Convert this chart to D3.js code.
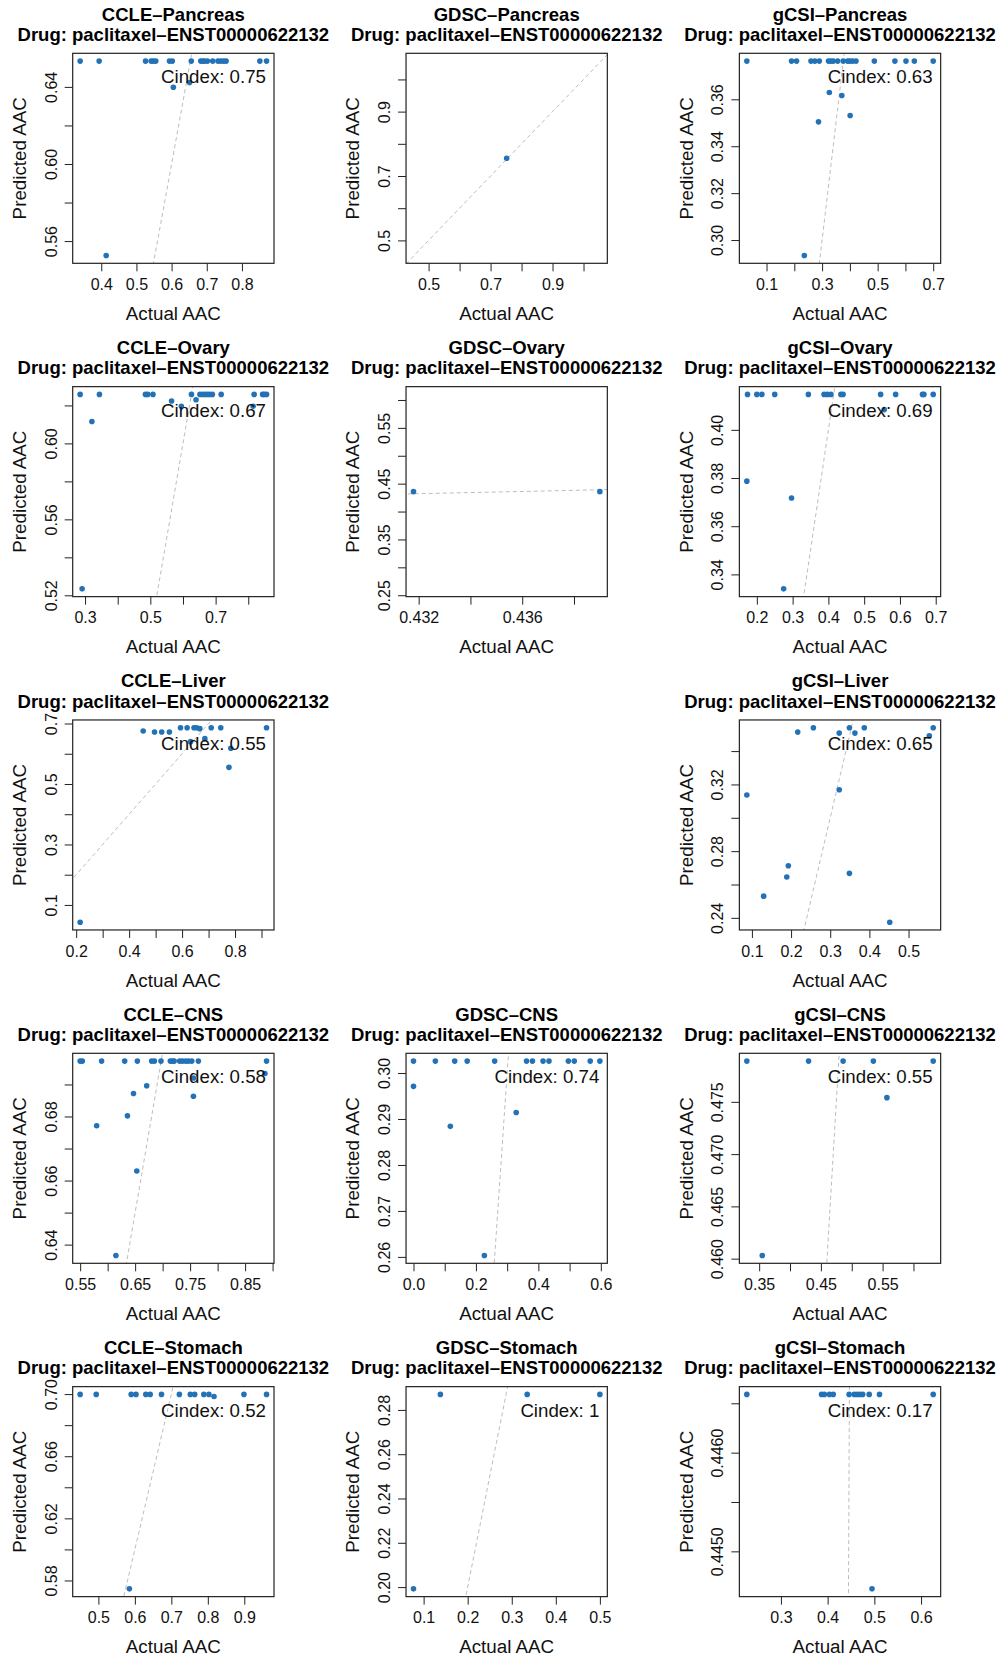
<!DOCTYPE html>
<html>
<head>
<meta charset="utf-8">
<script src="https://cdn.jsdelivr.net/npm/d3@7"></script>
<style>
  body { margin: 0; background: #fff; }
  svg { display: block; font-family: "Liberation Sans", Arial, Helvetica, sans-serif; }
  .title { font-weight: bold; font-size: 18.5px; fill: #000; }
  .tick text { font-size: 16px; fill: #111; }
  .axis-label { font-size: 18.8px; fill: #111; }
  .cindex { font-size: 18.7px; fill: #111; }
</style>
</head>
<body>
<div id="chart"></div>
<script>
const W = 1000, H = 1654;
const drugLabel = 'Drug: paclitaxel\u2013ENST00000622132';

// ---- data ----
const ccle_pancreas_x = [0.340, 0.394, 0.526, 0.542, 0.548, 0.555, 0.594, 0.602, 0.656, 0.683, 0.689, 0.694, 0.702, 0.717, 0.732, 0.740, 0.748, 0.755, 0.851, 0.870, 0.605, 0.651, 0.414];
const ccle_pancreas_y = [0.6534, 0.6534, 0.6534, 0.6534, 0.6534, 0.6534, 0.6534, 0.6534, 0.6534, 0.6534, 0.6534, 0.6534, 0.6534, 0.6534, 0.6534, 0.6534, 0.6534, 0.6534, 0.6534, 0.6534, 0.6398, 0.6423, 0.5525];

const gdsc_pancreas_x = [0.752];
const gdsc_pancreas_y = [0.755];

const gcsi_pancreas_x = [0.029, 0.190, 0.208, 0.260, 0.274, 0.290, 0.323, 0.332, 0.340, 0.356, 0.376, 0.392, 0.400, 0.410, 0.422, 0.488, 0.562, 0.602, 0.632, 0.700, 0.326, 0.371, 0.401, 0.287, 0.236];
const gcsi_pancreas_y = [0.3763, 0.3763, 0.3763, 0.3763, 0.3763, 0.3763, 0.3763, 0.3763, 0.3763, 0.3763, 0.3763, 0.3763, 0.3763, 0.3763, 0.3763, 0.3763, 0.3763, 0.3763, 0.3763, 0.3763, 0.3629, 0.3616, 0.3531, 0.3504, 0.2934];

const ccle_ovary_x = [0.285, 0.344, 0.485, 0.492, 0.508, 0.626, 0.652, 0.660, 0.668, 0.675, 0.682, 0.690, 0.717, 0.818, 0.844, 0.849, 0.856, 0.321, 0.565, 0.595, 0.640, 0.815, 0.291];
const ccle_ovary_y = [0.6258, 0.6258, 0.6258, 0.6258, 0.6258, 0.6258, 0.6258, 0.6258, 0.6258, 0.6258, 0.6258, 0.6258, 0.6258, 0.6258, 0.6258, 0.6258, 0.6258, 0.6115, 0.6223, 0.6196, 0.6230, 0.6196, 0.5234];

const gdsc_ovary_x = [0.4318, 0.4390];
const gdsc_ovary_y = [0.4357, 0.4357];

const gcsi_ovary_x = [0.174, 0.200, 0.214, 0.250, 0.344, 0.388, 0.397, 0.407, 0.435, 0.441, 0.546, 0.588, 0.663, 0.667, 0.693, 0.172, 0.297, 0.556, 0.275];
const gcsi_ovary_y = [0.4147, 0.4147, 0.4147, 0.4147, 0.4147, 0.4147, 0.4147, 0.4147, 0.4147, 0.4147, 0.4147, 0.4147, 0.4147, 0.4147, 0.4147, 0.3787, 0.3717, 0.4084, 0.3340];

const ccle_liver_x = [0.215, 0.453, 0.496, 0.523, 0.552, 0.594, 0.619, 0.645, 0.655, 0.667, 0.710, 0.746, 0.919, 0.632, 0.686, 0.784, 0.777];
const ccle_liver_y = [0.043, 0.675, 0.672, 0.672, 0.672, 0.686, 0.686, 0.686, 0.686, 0.683, 0.686, 0.686, 0.686, 0.640, 0.650, 0.618, 0.555];

const gcsi_liver_x = [0.087, 0.130, 0.189, 0.193, 0.217, 0.257, 0.323, 0.323, 0.349, 0.349, 0.363, 0.387, 0.452, 0.553, 0.563];
const gcsi_liver_y = [0.3137, 0.2530, 0.2645, 0.2712, 0.3514, 0.3540, 0.3508, 0.3168, 0.3540, 0.2667, 0.3508, 0.3540, 0.2374, 0.3492, 0.3540];

const ccle_cns_x = [0.550, 0.554, 0.589, 0.631, 0.654, 0.680, 0.685, 0.697, 0.714, 0.718, 0.721, 0.731, 0.736, 0.742, 0.747, 0.753, 0.765, 0.889, 0.580, 0.636, 0.647, 0.671, 0.653, 0.756, 0.756, 0.886, 0.615];
const ccle_cns_y = [0.6973, 0.6973, 0.6973, 0.6973, 0.6973, 0.6973, 0.6973, 0.6973, 0.6973, 0.6973, 0.6973, 0.6973, 0.6973, 0.6973, 0.6973, 0.6973, 0.6973, 0.6973, 0.6771, 0.6802, 0.6872, 0.6896, 0.6630, 0.6863, 0.6920, 0.6934, 0.6366];

const gdsc_cns_x = [0.000, 0.070, 0.132, 0.172, 0.260, 0.362, 0.381, 0.415, 0.434, 0.496, 0.515, 0.566, 0.597, 0.000, 0.118, 0.329, 0.227];
const gdsc_cns_y = [0.3026, 0.3026, 0.3026, 0.3026, 0.3026, 0.3026, 0.3026, 0.3026, 0.3026, 0.3026, 0.3026, 0.3026, 0.3026, 0.2971, 0.2884, 0.2914, 0.2603];

const gcsi_cns_x = [0.330, 0.430, 0.486, 0.535, 0.632, 0.557, 0.355];
const gcsi_cns_y = [0.4789, 0.4789, 0.4789, 0.4789, 0.4789, 0.4754, 0.4603];

const ccle_stomach_x = [0.450, 0.494, 0.590, 0.603, 0.630, 0.642, 0.673, 0.722, 0.752, 0.764, 0.789, 0.803, 0.817, 0.899, 0.961, 0.585];
const ccle_stomach_y = [0.6998, 0.6998, 0.6998, 0.6998, 0.6998, 0.6998, 0.6998, 0.6998, 0.6998, 0.6998, 0.6998, 0.6998, 0.6985, 0.6998, 0.6998, 0.5746];

const gdsc_stomach_x = [0.077, 0.138, 0.335, 0.500];
const gdsc_stomach_y = [0.1992, 0.287, 0.287, 0.287];

const gcsi_stomach_x = [0.227, 0.387, 0.393, 0.404, 0.412, 0.446, 0.457, 0.463, 0.469, 0.475, 0.489, 0.511, 0.626, 0.495];
const gcsi_stomach_y = [0.44659, 0.44659, 0.44659, 0.44659, 0.44659, 0.44659, 0.44659, 0.44659, 0.44659, 0.44659, 0.44659, 0.44659, 0.44659, 0.44462];

// Cindex values (null = not shown)
const cindex = {
  'CCLE-Pancreas': '0.75', 'GDSC-Pancreas': null, 'gCSI-Pancreas': '0.63',
  'CCLE-Ovary': '0.67', 'GDSC-Ovary': null, 'gCSI-Ovary': '0.69',
  'CCLE-Liver': '0.55', 'gCSI-Liver': '0.65',
  'CCLE-CNS': '0.58', 'GDSC-CNS': '0.74', 'gCSI-CNS': '0.55',
  'CCLE-Stomach': '0.52', 'GDSC-Stomach': '1', 'gCSI-Stomach': '0.17',
};

// tick positions and the labels R printed
const xTicks = {
  'CCLE-Pancreas': [0.4, 0.5, 0.6, 0.7, 0.8],
  'GDSC-Pancreas': [0.5, 0.6, 0.7, 0.8, 0.9, 1.0],
  'gCSI-Pancreas': [0.1, 0.2, 0.3, 0.4, 0.5, 0.6, 0.7],
  'CCLE-Ovary': [0.3, 0.4, 0.5, 0.6, 0.7, 0.8],
  'GDSC-Ovary': [0.432, 0.434, 0.436, 0.438],
  'gCSI-Ovary': [0.2, 0.3, 0.4, 0.5, 0.6, 0.7],
  'CCLE-Liver': [0.2, 0.3, 0.4, 0.5, 0.6, 0.7, 0.8, 0.9],
  'gCSI-Liver': [0.1, 0.2, 0.3, 0.4, 0.5],
  'CCLE-CNS': [0.55, 0.60, 0.65, 0.70, 0.75, 0.80, 0.85, 0.90],
  'GDSC-CNS': [0.0, 0.1, 0.2, 0.3, 0.4, 0.5, 0.6],
  'gCSI-CNS': [0.35, 0.40, 0.45, 0.50, 0.55, 0.60],
  'CCLE-Stomach': [0.5, 0.6, 0.7, 0.8, 0.9],
  'GDSC-Stomach': [0.1, 0.2, 0.3, 0.4, 0.5],
  'gCSI-Stomach': [0.3, 0.4, 0.5, 0.6],
};
const xLabels = {
  'CCLE-Pancreas': ['0.4', '0.5', '0.6', '0.7', '0.8'],
  'GDSC-Pancreas': ['0.5', '0.7', '0.9'],
  'gCSI-Pancreas': ['0.1', '0.3', '0.5', '0.7'],
  'CCLE-Ovary': ['0.3', '0.5', '0.7'],
  'GDSC-Ovary': ['0.432', '0.436'],
  'gCSI-Ovary': ['0.2', '0.3', '0.4', '0.5', '0.6', '0.7'],
  'CCLE-Liver': ['0.2', '0.4', '0.6', '0.8'],
  'gCSI-Liver': ['0.1', '0.2', '0.3', '0.4', '0.5'],
  'CCLE-CNS': ['0.55', '0.65', '0.75', '0.85'],
  'GDSC-CNS': ['0.0', '0.2', '0.4', '0.6'],
  'gCSI-CNS': ['0.35', '0.45', '0.55'],
  'CCLE-Stomach': ['0.5', '0.6', '0.7', '0.8', '0.9'],
  'GDSC-Stomach': ['0.1', '0.2', '0.3', '0.4', '0.5'],
  'gCSI-Stomach': ['0.3', '0.4', '0.5', '0.6'],
};
const yTicks = {
  'CCLE-Pancreas': [0.56, 0.58, 0.60, 0.62, 0.64],
  'GDSC-Pancreas': [0.5, 0.6, 0.7, 0.8, 0.9, 1.0],
  'gCSI-Pancreas': [0.30, 0.32, 0.34, 0.36],
  'CCLE-Ovary': [0.52, 0.54, 0.56, 0.58, 0.60, 0.62],
  'GDSC-Ovary': [0.25, 0.30, 0.35, 0.40, 0.45, 0.50, 0.55, 0.60],
  'gCSI-Ovary': [0.34, 0.36, 0.38, 0.40],
  'CCLE-Liver': [0.1, 0.2, 0.3, 0.4, 0.5, 0.6, 0.7],
  'gCSI-Liver': [0.24, 0.26, 0.28, 0.30, 0.32, 0.34],
  'CCLE-CNS': [0.64, 0.65, 0.66, 0.67, 0.68, 0.69],
  'GDSC-CNS': [0.26, 0.27, 0.28, 0.29, 0.30],
  'gCSI-CNS': [0.460, 0.465, 0.470, 0.475],
  'CCLE-Stomach': [0.58, 0.60, 0.62, 0.64, 0.66, 0.68, 0.70],
  'GDSC-Stomach': [0.20, 0.22, 0.24, 0.26, 0.28],
  'gCSI-Stomach': [0.4450, 0.4455, 0.4460, 0.4465],
};
const yLabels = {
  'CCLE-Pancreas': ['0.56', '0.60', '0.64'],
  'GDSC-Pancreas': ['0.5', '0.7', '0.9'],
  'gCSI-Pancreas': ['0.30', '0.32', '0.34', '0.36'],
  'CCLE-Ovary': ['0.52', '0.56', '0.60'],
  'GDSC-Ovary': ['0.25', '0.35', '0.45', '0.55'],
  'gCSI-Ovary': ['0.34', '0.36', '0.38', '0.40'],
  'CCLE-Liver': ['0.1', '0.3', '0.5', '0.7'],
  'gCSI-Liver': ['0.24', '0.28', '0.32'],
  'CCLE-CNS': ['0.64', '0.66', '0.68'],
  'GDSC-CNS': ['0.26', '0.27', '0.28', '0.29', '0.30'],
  'gCSI-CNS': ['0.460', '0.465', '0.470', '0.475'],
  'CCLE-Stomach': ['0.58', '0.62', '0.66', '0.70'],
  'GDSC-Stomach': ['0.20', '0.22', '0.24', '0.26', '0.28'],
  'gCSI-Stomach': ['0.4450', '0.4460'],
};

// grid order: row = tissue, col = dataset (GDSC-Liver is empty)
const panels = [
  { name: 'CCLE-Pancreas', row: 0, col: 0, x: ccle_pancreas_x, y: ccle_pancreas_y },
  { name: 'GDSC-Pancreas', row: 0, col: 1, x: gdsc_pancreas_x, y: gdsc_pancreas_y },
  { name: 'gCSI-Pancreas', row: 0, col: 2, x: gcsi_pancreas_x, y: gcsi_pancreas_y },
  { name: 'CCLE-Ovary', row: 1, col: 0, x: ccle_ovary_x, y: ccle_ovary_y },
  { name: 'GDSC-Ovary', row: 1, col: 1, x: gdsc_ovary_x, y: gdsc_ovary_y },
  { name: 'gCSI-Ovary', row: 1, col: 2, x: gcsi_ovary_x, y: gcsi_ovary_y },
  { name: 'CCLE-Liver', row: 2, col: 0, x: ccle_liver_x, y: ccle_liver_y },
  { name: 'gCSI-Liver', row: 2, col: 2, x: gcsi_liver_x, y: gcsi_liver_y },
  { name: 'CCLE-CNS', row: 3, col: 0, x: ccle_cns_x, y: ccle_cns_y },
  { name: 'GDSC-CNS', row: 3, col: 1, x: gdsc_cns_x, y: gdsc_cns_y },
  { name: 'gCSI-CNS', row: 3, col: 2, x: gcsi_cns_x, y: gcsi_cns_y },
  { name: 'CCLE-Stomach', row: 4, col: 0, x: ccle_stomach_x, y: ccle_stomach_y },
  { name: 'GDSC-Stomach', row: 4, col: 1, x: gdsc_stomach_x, y: gdsc_stomach_y },
  { name: 'gCSI-Stomach', row: 4, col: 2, x: gcsi_stomach_x, y: gcsi_stomach_y },
];

// ---- layout ----
const cell = 1000 / 3;
const box = { left: 72.7, top: 53.3, w: 201.3, h: 210 };
const dotColor = '#2372b6';

// same as R's default axis range: zero width -> +-40%, then 4% each side
function rRange (vals) {
  let [a, b] = d3.extent(vals);
  if (a === b) {
    const d = a === 0 ? 1 : 0.4 * Math.abs(a);
    a -= d;
    b += d;
  }
  const pad = 0.04 * (b - a);
  return [a - pad, b + pad];
}

const svg = d3.select('#chart').append('svg')
  .attr('width', W)
  .attr('height', H);

svg.append('rect').attr('width', W).attr('height', H).attr('fill', '#fff');

const g = svg.selectAll('g.panel')
  .data(panels)
  .join('g')
  .attr('class', 'panel')
  .attr('transform', d => `translate(${d.col * cell + box.left},${d.row * cell + box.top})`);

g.each(function (p, i) {
  const node = d3.select(this);
  const xs = d3.scaleLinear().domain(rRange(p.x)).range([0, box.w]);
  const ys = d3.scaleLinear().domain(rRange(p.y)).range([box.h, 0]);
  const pts = p.x.map((v, k) => [v, p.y[k]]);

  // titles
  node.append('text').attr('class', 'title')
    .attr('x', box.w / 2).attr('y', -32.6).attr('text-anchor', 'middle')
    .text(p.name.replace('-', '\u2013'));
  node.append('text').attr('class', 'title')
    .attr('x', box.w / 2).attr('y', -12.3).attr('text-anchor', 'middle')
    .text(drugLabel);

  // y = x reference line, clipped to the plot region
  const clipId = 'clip' + i;
  node.append('clipPath').attr('id', clipId)
    .append('rect').attr('width', box.w).attr('height', box.h);
  const lo = Math.min(xs.domain()[0], ys.domain()[0]);
  const hi = Math.max(xs.domain()[1], ys.domain()[1]);
  node.append('line')
    .attr('clip-path', `url(#${clipId})`)
    .attr('x1', xs(lo)).attr('y1', ys(lo))
    .attr('x2', xs(hi)).attr('y2', ys(hi))
    .attr('stroke', '#bdbdbd')
    .attr('stroke-width', 1)
    .attr('stroke-dasharray', '4,3');

  // x axis
  const xl = xLabels[p.name];
  const xAxis = node.append('g')
    .attr('transform', `translate(0,${box.h})`)
    .call(d3.axisBottom(xs)
      .tickValues(xTicks[p.name])
      .tickSize(8)
      .tickPadding(7.5)
      .tickFormat(v => {
        const s = xl.find(l => Math.abs(+l - v) < 1e-9);
        return s || '';
      }));
  xAxis.select('.domain').remove();
  xAxis.selectAll('.tick line').attr('stroke', '#222');

  // y axis, labels rotated like R's default
  const yl = yLabels[p.name];
  const yAxis = node.append('g')
    .call(d3.axisLeft(ys)
      .tickValues(yTicks[p.name])
      .tickSize(8)
      .tickFormat(v => {
        const s = yl.find(l => Math.abs(+l - v) < 1e-9);
        return s || '';
      }));
  yAxis.select('.domain').remove();
  yAxis.selectAll('.tick line').attr('stroke', '#222');
  yAxis.selectAll('.tick text')
    .attr('x', null)
    .attr('dy', null)
    .attr('text-anchor', 'middle')
    .attr('transform', 'translate(-16,0) rotate(-90)');

  // frame
  node.append('rect')
    .attr('width', box.w).attr('height', box.h)
    .attr('fill', 'none')
    .attr('stroke', '#222')
    .attr('stroke-width', 1.2);

  // axis titles
  node.append('text').attr('class', 'axis-label')
    .attr('x', box.w / 2).attr('y', box.h + 56.7)
    .attr('text-anchor', 'middle')
    .text('Actual AAC');
  node.append('text').attr('class', 'axis-label')
    .attr('transform', `translate(-46.7,${box.h / 2}) rotate(-90)`)
    .attr('text-anchor', 'middle')
    .text('Predicted AAC');

  // points
  node.selectAll('circle.pt')
    .data(pts)
    .join('circle')
    .attr('class', 'pt')
    .attr('cx', d => xs(d[0]))
    .attr('cy', d => ys(d[1]))
    .attr('r', 2.8)
    .attr('fill', dotColor);

  // Cindex legend
  const ci = cindex[p.name];
  if (ci) {
    node.append('text').attr('class', 'cindex')
      .attr('x', box.w - 8).attr('y', 30)
      .attr('text-anchor', 'end')
      .text('Cindex: ' + ci);
  }
});
</script>
</body>
</html>
